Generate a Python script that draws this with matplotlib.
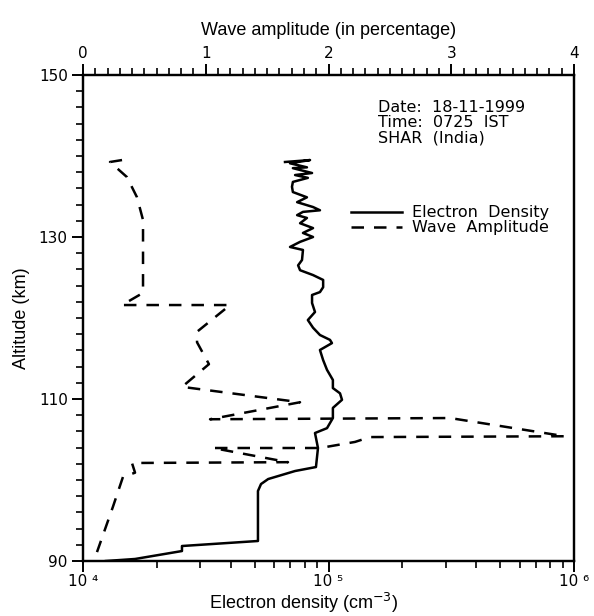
import matplotlib
matplotlib.use("Agg")
import matplotlib.pyplot as plt
from matplotlib.ticker import FixedLocator, NullFormatter, MultipleLocator

# Electron density profile (solid line), bottom log axis
ed_alt = [90.0, 90.25, 91.23, 91.85, 92.47, 98.64, 99.5, 100.12, 101.11, 101.6,
          103.95, 105.8, 106.4, 107.65, 108.9, 109.9, 110.7, 111.35, 112.35, 113.6,
          114.8, 116.05, 116.9, 117.3, 117.9, 118.8, 119.75, 120.74, 121.85, 122.84,
          123.2, 123.8, 124.7, 125.3, 125.9, 126.5, 127.16, 128.4, 128.77, 129.4,
          130.0, 130.5, 131.1, 131.7, 132.35, 132.7, 133.1, 133.3, 133.7, 134.3,
          134.9, 135.55, 136.2, 136.8, 137.3, 137.65, 137.9, 138.5, 138.6, 139.1,
          139.5, 139.26]
ed_val = [12400, 16300, 25300, 25300, 51600, 51600, 53100, 56800, 73100, 88900,
          90600, 88100, 98600, 104200, 104200, 113500, 111400, 104200, 104200, 98600,
          95100, 92300, 103300, 101400, 92300, 86500, 82400, 88100, 85700, 85700,
          92300, 95100, 95100, 86500, 76600, 75200, 78000, 78700, 69700, 76600,
          86500, 78700, 86500, 76600, 81700, 74500, 78700, 92300, 86500, 74500,
          81700, 71600, 71000, 71600, 82400, 73100, 85700, 71600, 81700, 69700,
          84100, 66500]

# Wave amplitude profile (dashed line), top linear axis (percent)
wa_alt = [139.5, 139.26, 137.4, 134.9, 132.1, 123.1, 121.6, 121.6, 118.3, 117.0,
          114.3, 111.5, 109.6, 107.5, 107.65, 105.4, 105.3, 104.7, 103.95, 103.95,
          102.2, 102.1, 100.9, 100.4, 96.7, 91.1]
wa_val = [0.318, 0.22, 0.358, 0.44, 0.489, 0.489, 0.318, 1.198, 0.929, 0.929,
          1.026, 0.807, 1.768, 1.035, 2.99, 3.927, 2.338, 2.216, 1.931, 1.059,
          1.670, 0.399, 0.424, 0.326, 0.244, 0.114]

info_lines = ["Date:  18-11-1999", "Time:  0725  IST", "SHAR  (India)"]

fig = plt.figure(figsize=(5.94, 6.16), dpi=100)
ax = fig.add_axes([83/594, 1 - 561/616, (574-83)/594, (561-75)/616])
ax.set_xscale("log")
ax.set_xlim(1e4, 1e6)
ax.set_ylim(90, 150)

l1, = ax.plot(ed_val, ed_alt, color="black", lw=1.8, solid_joinstyle="round")

ax2 = ax.twiny()
ax2.set_xlim(0, 4)
l2, = ax2.plot(wa_val, wa_alt, color="black", lw=1.8, linestyle=(0, (5, 4)))

for a in (ax, ax2):
    for s in a.spines.values():
        s.set_linewidth(1.6)

tickfont = dict(family="DejaVu Sans", size=11)

ax.yaxis.set_major_locator(FixedLocator([90, 110, 130, 150]))
ax.yaxis.set_minor_locator(MultipleLocator(2))
ax.set_yticklabels(["90", "110", "130", "150"], fontdict=tickfont)
ax.xaxis.set_major_locator(FixedLocator([1e4, 1e5, 1e6]))
ax.xaxis.set_minor_locator(FixedLocator([k * 10**e for e in (4, 5) for k in range(2, 10)]))
ax.xaxis.set_minor_formatter(NullFormatter())
ax.set_xticklabels(["10 \u2074", "10 \u2075", "10 \u2076"], fontdict=tickfont)
ax.tick_params(axis="both", which="major", direction="out", length=8, width=1.4, pad=3)
ax.tick_params(axis="x", which="major", pad=1)
ax.tick_params(axis="both", which="minor", direction="out", length=5, width=1.2)
ax.tick_params(top=False, right=False, which="both")

ax2.xaxis.set_major_locator(MultipleLocator(1))
ax2.xaxis.set_minor_locator(MultipleLocator(0.1))
ax2.set_xticks([0, 1, 2, 3, 4])
ax2.set_xticklabels(["0", "1", "2", "3", "4"], fontdict=tickfont)
ax2.tick_params(axis="x", which="major", direction="out", length=8, width=1.4, pad=2)
ax2.tick_params(axis="x", which="minor", direction="out", length=5, width=1.2)

lab = dict(family="Liberation Sans", size=13)
ax.set_xlabel("Electron density (cm$^{-3}$)", fontdict=lab)
ax.xaxis.set_label_coords(0.45, -(591 - 561) / 486)
ax.set_ylabel("Altitude (km)", fontdict=lab, labelpad=6)
ax2.set_xlabel("Wave amplitude (in percentage)", fontdict=lab, labelpad=8)

for i, t in enumerate(info_lines):
    fig.text(378/594, 1 - (107 + i*15.5)/616, t, fontsize=11.5, family="DejaVu Sans",
             va="center", ha="left")

ax.legend([l1, l2], ["Electron  Density", "Wave  Amplitude"],
          loc="upper left", bbox_to_anchor=((340-83)/491, (561-194)/486),
          frameon=False, fontsize=11.5, handlelength=3.2, handletextpad=0.6,
          labelspacing=0.0, borderpad=0.2)

fig.savefig("out.png", dpi=100)
